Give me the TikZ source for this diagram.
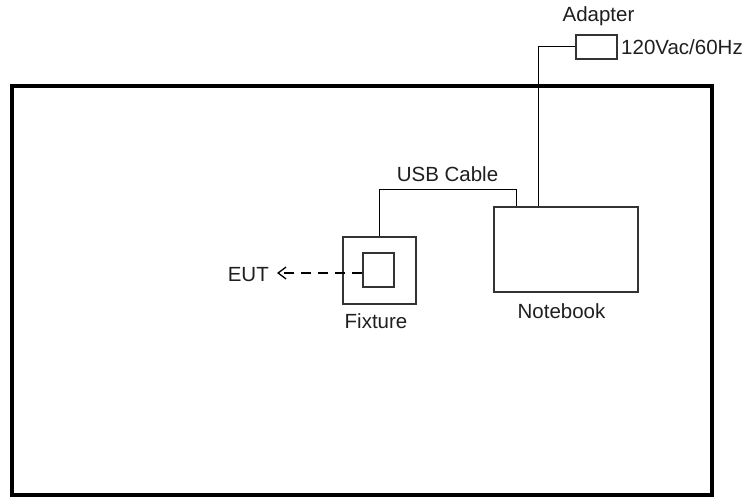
\documentclass[tikz,border=0pt]{standalone}
\usepackage{fontspec}
\setmainfont{Liberation Sans}
\usetikzlibrary{arrows.meta}
\begin{document}
\begin{tikzpicture}[x=1pt,y=-1pt,
  lbl/.style={font=\fontsize{20.5}{24}\selectfont, text=black!88, inner sep=0pt},
  wire/.style={line width=1pt, black},
  boxline/.style={line width=1.3pt, black!80}]
\useasboundingbox (0,0) rectangle (755,500);
% frame
\draw[line width=4pt] (12,86) rectangle (712,495);
% adapter
\node[boxline, draw, minimum width=41pt, minimum height=24pt, inner sep=0pt] (adapter) at (596.5,47) {};
\node[lbl, anchor=base] (adlbl) at (598.5,22) {Adapter};
\node[lbl, anchor=base west] (volt) at (621,55) {120Vac/60Hz};
% notebook
\node[boxline, draw, minimum width=144pt, minimum height=85pt, inner sep=0pt] (nb) at (566,249.5) {};
\node[lbl, anchor=base] (nblbl) at (561.5,318) {Notebook};
% fixture
\node[boxline, draw, minimum width=73pt, minimum height=67pt, inner sep=0pt] (fix) at (379.5,270.5) {};
\node[boxline, draw, minimum width=31pt, minimum height=34pt, inner sep=0pt] (eutbox) at (378.5,270) {};
\node[lbl, anchor=base] (fixlbl) at (376,328) {Fixture};
\node[lbl, anchor=base east] (eut) at (269,281) {EUT};
\coordinate (eutend) at (277,273);
% connectors
\coordinate (a1) at (538,47);
\draw[wire] (adapter.west) -- (a1) -- (a1 |- nb.north);
\coordinate (u1) at (516,189);
\coordinate (u2) at (379,189);
\draw[wire] (u1 |- nb.north) -- (u1) -- (u2) -- (u2 |- fix.north);
\node[lbl, anchor=base] (usb) at (447.5,182) {USB Cable};
\draw[line width=1.3pt, black, dash pattern=on 10pt off 7pt, -{Straight Barb[length=8pt,width=12pt,line width=1.3pt]}] (eutbox.west |- eutend) -- (eutend);
\end{tikzpicture}
\end{document}
